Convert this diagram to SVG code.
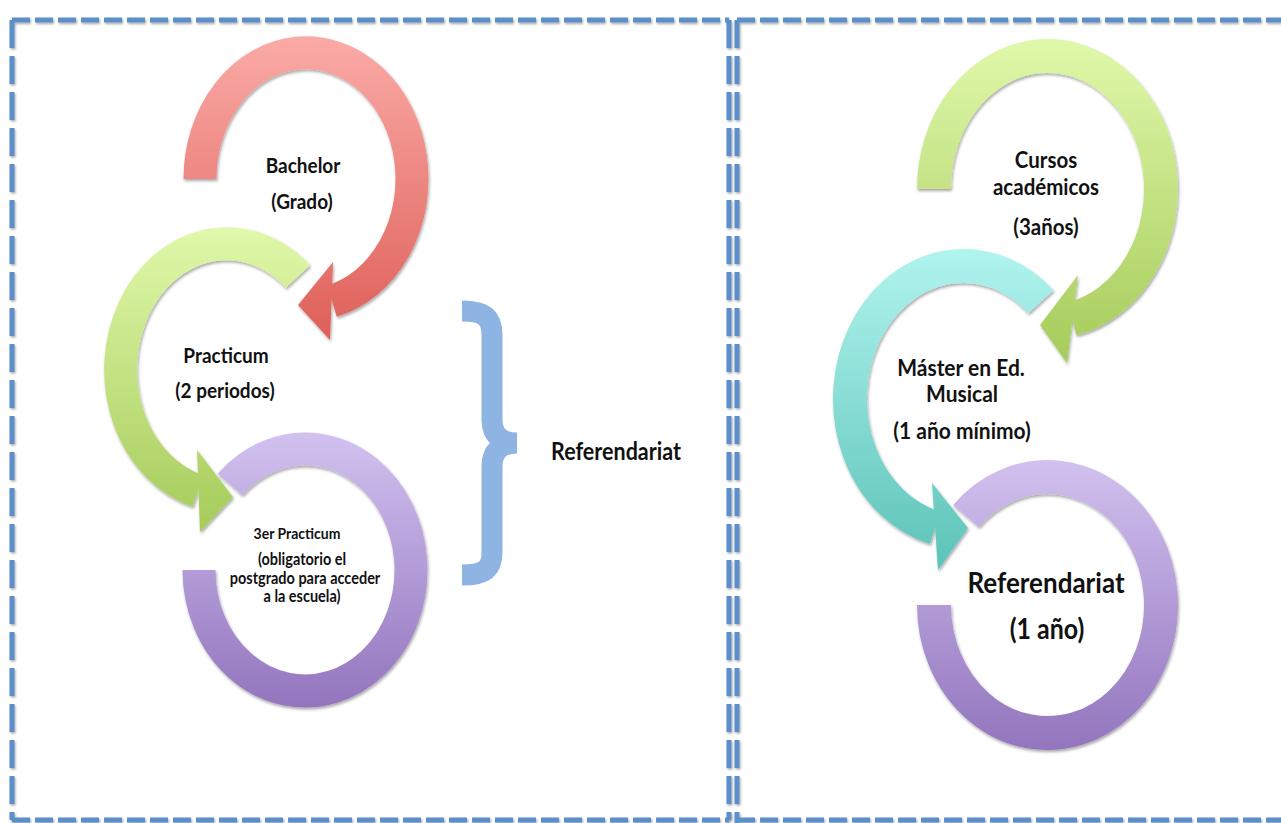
<svg xmlns="http://www.w3.org/2000/svg" width="1281" height="823" viewBox="0 0 1281 823">
<style>
.t{font-family:Lato,"Open Sans","Liberation Sans",sans-serif;font-weight:bold;fill:#111;text-anchor:middle}
.bh{stroke:#5B8FCA;stroke-width:5;stroke-dasharray:18 5;fill:none}
.bv{stroke:#5B8FCA;stroke-width:5;stroke-dasharray:28 8;fill:none}
.ring{fill:none}
</style>
<defs>
<filter id="sh" x="-10%" y="-10%" width="130%" height="130%"><feDropShadow dx="1" dy="2" stdDeviation="1.6" flood-color="#000" flood-opacity="0.35"/></filter>
<filter id="shb" x="-2%" y="-2%" width="104%" height="104%"><feDropShadow dx="1" dy="1.5" stdDeviation="1.2" flood-color="#000" flood-opacity="0.35"/></filter>
<linearGradient id="gRed" gradientUnits="userSpaceOnUse" x1="0" y1="38" x2="0" y2="340"><stop offset="0" stop-color="#FAAAA6"/><stop offset="1" stop-color="#DE5F58"/></linearGradient>
<linearGradient id="gGreenL" gradientUnits="userSpaceOnUse" x1="0" y1="228" x2="0" y2="532"><stop offset="0" stop-color="#E0F8AA"/><stop offset="1" stop-color="#A6CB5A"/></linearGradient>
<linearGradient id="gPurL" gradientUnits="userSpaceOnUse" x1="0" y1="434" x2="0" y2="707"><stop offset="0" stop-color="#D1C1EF"/><stop offset="1" stop-color="#9375BE"/></linearGradient>
<linearGradient id="gGreenR" gradientUnits="userSpaceOnUse" x1="0" y1="40" x2="0" y2="363"><stop offset="0" stop-color="#E0F8AA"/><stop offset="1" stop-color="#A6CB5A"/></linearGradient>
<linearGradient id="gCyan" gradientUnits="userSpaceOnUse" x1="0" y1="250" x2="0" y2="570"><stop offset="0" stop-color="#B0F4EE"/><stop offset="1" stop-color="#5CC3B8"/></linearGradient>
<linearGradient id="gPurR" gradientUnits="userSpaceOnUse" x1="0" y1="460" x2="0" y2="750"><stop offset="0" stop-color="#D1C1EF"/><stop offset="1" stop-color="#9375BE"/></linearGradient>
</defs>
<rect width="1281" height="823" fill="#fff"/>
<g id="frames" filter="url(#shb)">
<line class="bh" x1="12" y1="20" x2="729" y2="20"/>
<line class="bh" x1="12" y1="820" x2="729" y2="820"/>
<line class="bv" x1="12" y1="20" x2="12" y2="820"/>
<line class="bv" x1="729" y1="20" x2="729" y2="820"/>
<line class="bh" x1="737" y1="20" x2="1281" y2="20"/>
<line class="bh" x1="737" y1="820" x2="1281" y2="820"/>
<line class="bv" x1="737" y1="20" x2="737" y2="823"/>
</g>
<g id="bachelor">
<g filter="url(#sh)">
<path class="ring" d="M200,179 A106,126 0 1 1 332,301" stroke="url(#gRed)" stroke-width="33"/>
<polygon points="333,262 298,305 330,340" fill="url(#gRed)"/>
</g>
<text class="t" font-size="19" transform="translate(303,173) scale(1,1.12)">Bachelor</text>
<text class="t" font-size="19" transform="translate(302,209) scale(1,1.12)">(Grado)</text>
</g>
<g id="practicum">
<g filter="url(#sh)">
<path class="ring" d="M298,276.5 A106,126 0 1 0 198,491" stroke="url(#gGreenL)" stroke-width="33"/>
<polygon points="197,450 233,497 200,532" fill="url(#gGreenL)"/>
</g>
<text class="t" font-size="19" transform="translate(226,363) scale(1,1.12)">Practicum</text>
<text class="t" font-size="19" transform="translate(225,398) scale(1,1.12)">(2 periodos)</text>
</g>
<g id="practicum3">
<g filter="url(#sh)">
<path class="ring" d="M230,484.5 A106,121 0 1 1 199,570" stroke="url(#gPurL)" stroke-width="33"/>
</g>
<text class="t" font-size="14" transform="translate(297,539) scale(1,1.12)">3er Practicum</text>
<text class="t" font-size="14.5" transform="translate(302,565) scale(1,1.12)">(obligatorio el</text>
<text class="t" font-size="14.5" transform="translate(305,584) scale(1,1.12)">postgrado para acceder</text>
<text class="t" font-size="14.5" transform="translate(302,602) scale(1,1.12)">a la escuela)</text>
</g>
<g id="brace">
<path d="M462,311 C485,311 492,318 492,335 L492,420 C492,434 500,443 517,443 C500,443 492,452 492,466 L492,552 C492,569 485,575 462,575" fill="none" stroke="#8EB4E3" stroke-width="21" stroke-linejoin="miter" stroke-miterlimit="10"/>
<text class="t" font-size="21.5" transform="translate(616,460) scale(1,1.12)">Referendariat</text>
</g>
<g id="cursos">
<g filter="url(#sh)">
<path class="ring" d="M934,189 A113.5,133 0 1 1 1072,318.9" stroke="url(#gGreenR)" stroke-width="34"/>
<polygon points="1078,275 1040,325 1067,363" fill="url(#gGreenR)"/>
</g>
<text class="t" font-size="20.5" transform="translate(1046,168) scale(1,1.12)">Cursos</text>
<text class="t" font-size="20.5" transform="translate(1046,195) scale(1,1.12)">académicos</text>
<text class="t" font-size="20.5" transform="translate(1046,235) scale(1,1.12)">(3años)</text>
</g>
<g id="master">
<g filter="url(#sh)">
<path class="ring" d="M1041,301.8 A113.5,133 0 1 0 935,527.7" stroke="url(#gCyan)" stroke-width="34"/>
<polygon points="932,483 968,528 938,570" fill="url(#gCyan)"/>
</g>
<text class="t" font-size="21" transform="translate(961,376) scale(1,1.12)">Máster en Ed.</text>
<text class="t" font-size="21" transform="translate(962,402) scale(1,1.12)">Musical</text>
<text class="t" font-size="21" transform="translate(962,439) scale(1,1.12)">(1 año mínimo)</text>
</g>
<g id="referendariat">
<g filter="url(#sh)">
<path class="ring" d="M966,516 A113.5,128 0 1 1 934,605" stroke="url(#gPurR)" stroke-width="34"/>
</g>
<text class="t" font-size="26" transform="translate(1046,593) scale(1,1.12)">Referendariat</text>
<text class="t" font-size="25" transform="translate(1047,639) scale(1,1.12)">(1 año)</text>
</g>
</svg>
